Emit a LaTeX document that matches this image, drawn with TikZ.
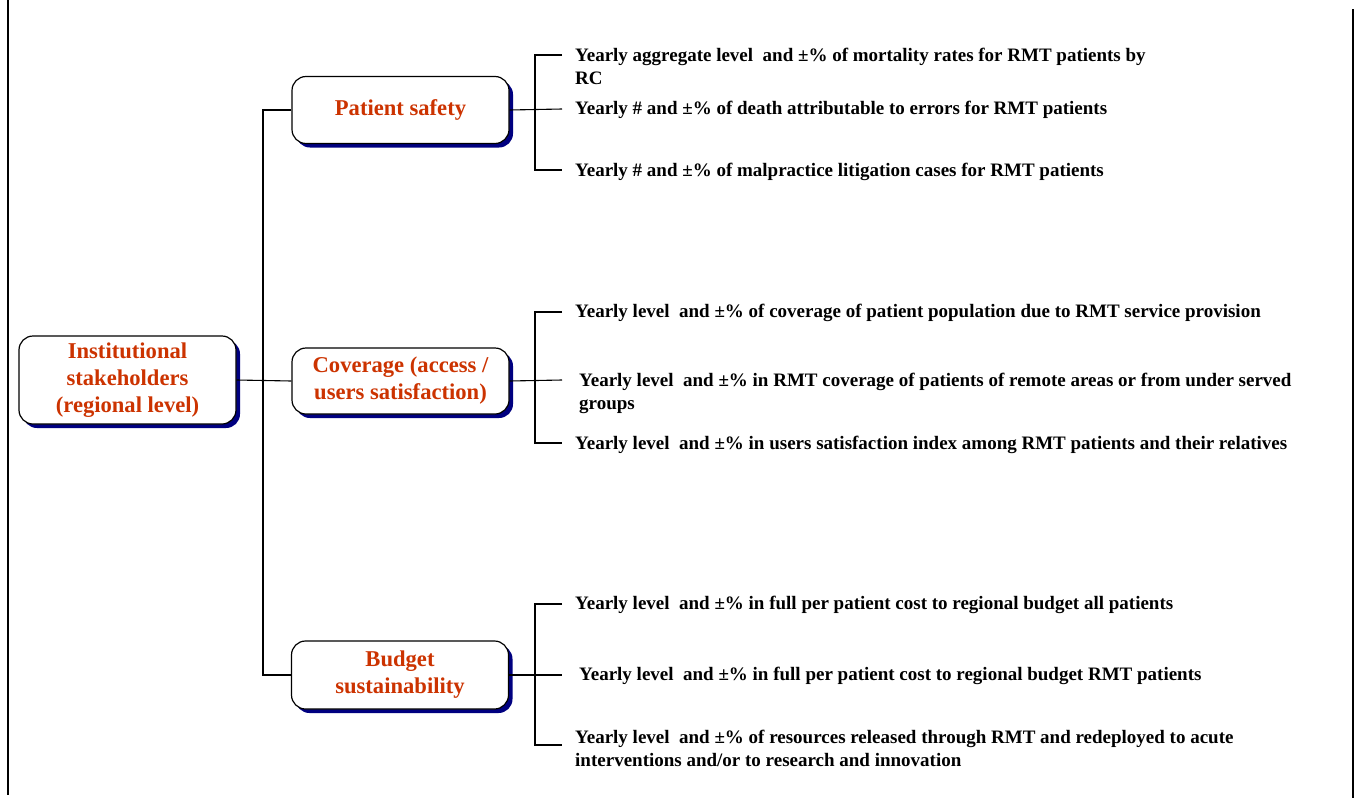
\documentclass[tikz,border=0pt]{standalone}
\usepackage{fontspec}
\setmainfont{Liberation Serif}
\usetikzlibrary{positioning, shadows}
\definecolor{stRed}{HTML}{CC3300}
\definecolor{stNavy}{HTML}{000080}
\tikzset{
  frameline/.style = {line width=1.3pt, black},
  link/.style      = {line width=1.1pt, black},
  topicbox/.style  = {draw=black, line width=1.2pt, rounded corners=14pt, fill=white,
                      minimum width=217pt, align=center, text=stRed,
                      font=\fontsize{22.6}{27}\selectfont\bfseries,
                      drop shadow={shadow xshift=4pt, shadow yshift=-4pt,
                                   fill=stNavy, opacity=1}},
  item/.style      = {anchor=west, align=left, inner sep=0pt,
                      font=\fontsize{19}{22.5}\selectfont\bfseries},
}

\begin{document}
\begin{tikzpicture}[x=1pt, y=-1pt]
  \useasboundingbox (0,0) rectangle (1359,798);
  \draw[frameline] (8,0) -- (8,795);
  \draw[frameline] (1353,9) -- (1353,798);

  % stakeholder and its three topics
  \node[topicbox, minimum height=88pt] (root) at (127.5,380)
    {Institutional\\stakeholders\\(regional level)};
  \node[topicbox, minimum height=67pt] (safety) at (400.5,110) {Patient safety};
  \node[topicbox, minimum height=66pt] (coverage) at (400.5,381)
    {Coverage (access /\\users satisfaction)};
  \node[topicbox, minimum height=68pt] (budget) at (400,675)
    {Budget\\sustainability};

  \coordinate (spine) at (263,380);
  \draw[link] (root.east) -- (coverage.west);
  \draw[link] (safety.west) -| (spine) |- (budget.west);

  % patient safety indicators
  \coordinate (ps-a) at (562,55);
  \coordinate (ps-b) at (562,109);
  \coordinate (ps-c) at (562,170);
  \node[item] (ps1) at (575,66.5)
    {Yearly aggregate level\ \ and ±\% of mortality rates for RMT patients by\\RC};
  \node[item] (ps2) at (575,110)
    {Yearly \# and ±\% of death attributable to errors for RMT patients};
  \node[item] (ps3) at (575,172)
    {Yearly \# and ±\% of malpractice litigation cases for RMT patients};
  \draw[link] (ps-a) -- ++(-27,0) |- (ps-c);
  \draw[link] (safety.east) -- (ps-b);

  % coverage indicators
  \coordinate (cv-a) at (562,312);
  \coordinate (cv-b) at (562,380);
  \coordinate (cv-c) at (562,443);
  \node[item] (cv1) at (575,313)
    {Yearly level\ \ and ±\% of coverage of patient population due to RMT service provision};
  \node[item] (cv2) at (579,393.5)
    {Yearly level\ \ and ±\% in RMT coverage of patients of remote areas or from under served\\groups};
  \node[item] (cv3) at (575,445)
    {Yearly level\ \ and ±\% in users satisfaction index among RMT patients and their relatives};
  \draw[link] (cv-a) -- ++(-27,0) |- (cv-c);
  \draw[link] (coverage.east) -- (cv-b);

  % budget indicators
  \coordinate (bs-a) at (562,604);
  \coordinate (bs-b) at (562,675);
  \coordinate (bs-c) at (562,745);
  \node[item] (bs1) at (575,605)
    {Yearly level\ \ and ±\% in full per patient cost to regional budget all patients};
  \node[item] (bs2) at (579,676)
    {Yearly level\ \ and ±\% in full per patient cost to regional budget RMT patients};
  \node[item] (bs3) at (575,748.5)
    {Yearly level\ \ and ±\% of resources released through RMT and redeployed to acute\\interventions and/or to research and innovation};
  \draw[link] (bs-a) -- ++(-27,0) |- (bs-c);
  \draw[link] (budget.east) -- (bs-b);
\end{tikzpicture}
\end{document}
